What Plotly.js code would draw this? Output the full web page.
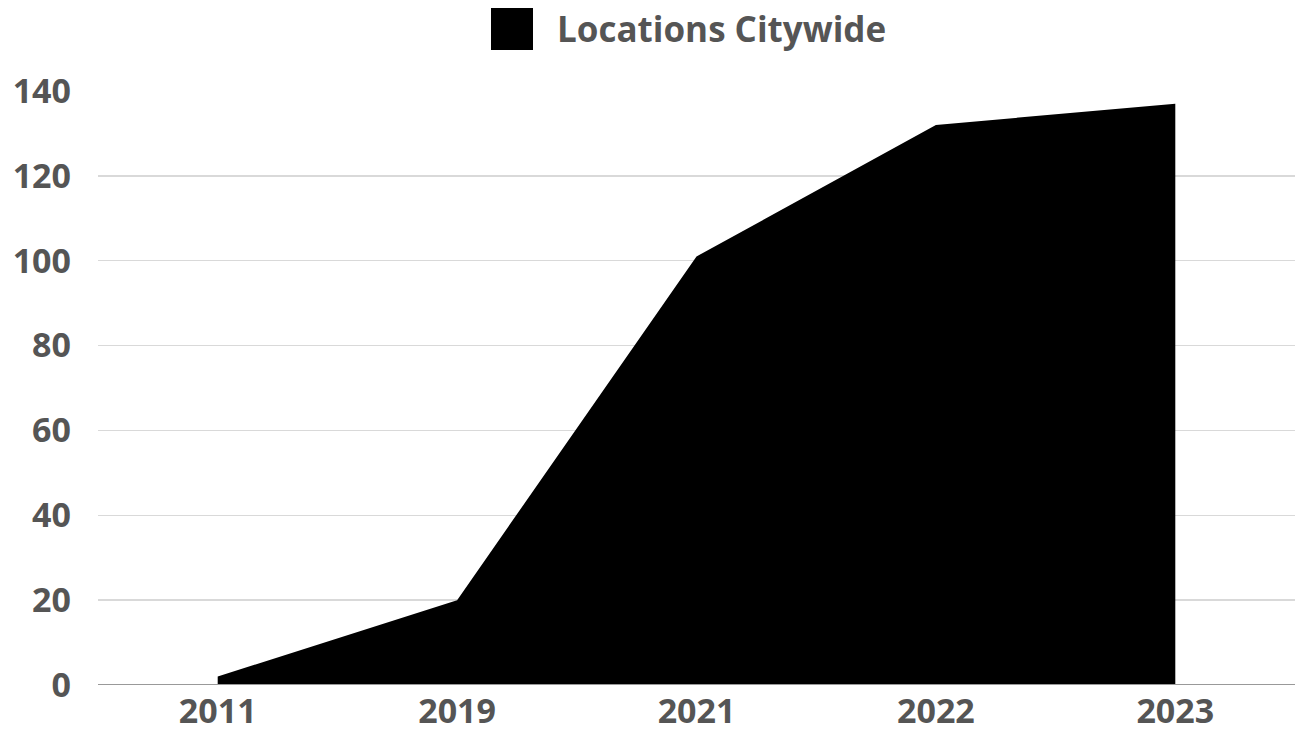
<!DOCTYPE html>
<html>
<head>
<meta charset="utf-8">
<script src="https://cdn.plot.ly/plotly-3.0.1.min.js"></script>
<style>html,body{margin:0;padding:0;background:#fff;}#chart{width:1295px;height:734px;}</style>
</head>
<body>
<div id="chart"></div>
<script>
const years = ["2011", "2019", "2021", "2022", "2023"];
const locations = [2, 20, 101, 132, 137];
const seriesName = "Locations Citywide";
const yTicks = [0, 20, 40, 60, 80, 100, 120, 140];

const trace = {
  x: years,
  y: locations,
  type: "scatter",
  mode: "lines",
  fill: "tozeroy",
  fillcolor: "#000000",
  line: {color: "#000000", width: 0},
  name: seriesName,
  showlegend: false,
  hoverinfo: "x+y"
};

const layout = {
  width: 1295,
  height: 734,
  margin: {l: 98, r: 0, t: 91, b: 49},
  paper_bgcolor: "#ffffff",
  plot_bgcolor: "#ffffff",
  font: {family: "Open Sans, sans-serif", color: "#555555", size: 34, weight: 700},
  showlegend: false,
  xaxis: {
    type: "category",
    range: [-0.5, 4.5],
    showgrid: false,
    showline: false,
    zeroline: false,
    ticks: "",
    tickfont: {family: "Open Sans", size: 34, color: "#555555", weight: 700},
    ticklabelstandoff: 3
  },
  yaxis: {
    range: [0, 140],
    tickvals: yTicks,
    ticktext: yTicks.map(String),
    showgrid: true,
    gridcolor: "#d9d9d9",
    gridwidth: 1.5,
    zeroline: false,
    showline: false,
    ticks: "",
    ticklabelstandoff: 26,
    tickfont: {family: "Open Sans", size: 34, color: "#555555", weight: 700}
  },
  shapes: [
    {type: "line", xref: "paper", yref: "y", x0: 0, x1: 1, y0: 0, y1: 0,
     line: {color: "#999999", width: 2}, layer: "above"},
    {type: "rect", xref: "paper", yref: "paper",
     x0: (491 - 98) / 1197, x1: (533 - 98) / 1197,
     y0: (685 - 50) / 594, y1: (685 - 8) / 594,
     fillcolor: "#000000", line: {width: 0}}
  ],
  annotations: [
    {text: seriesName, xref: "paper", yref: "paper",
     x: (555 - 98) / 1197, y: (685 - 28) / 594,
     xanchor: "left", yanchor: "middle", showarrow: false,
     font: {family: "Open Sans", size: 35, color: "#555555", weight: 700}}
  ]
};

Plotly.newPlot("chart", [trace], layout, {displayModeBar: false, staticPlot: true});
</script>
</body>
</html>
